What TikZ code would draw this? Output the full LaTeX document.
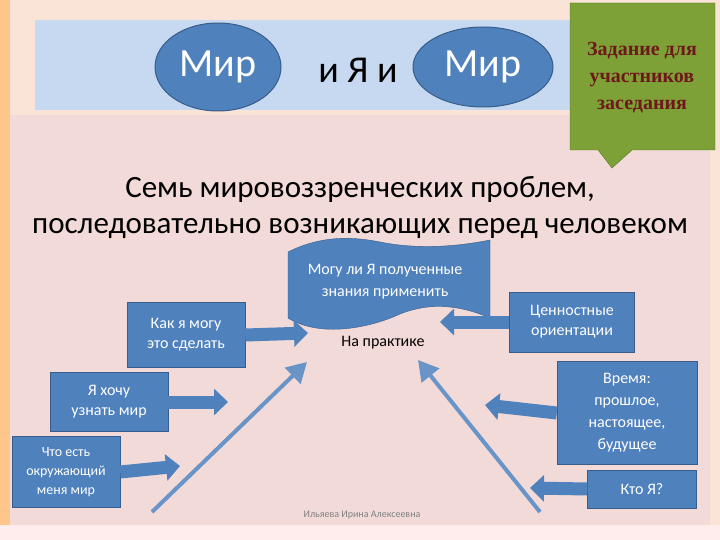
\documentclass[tikz,border=0pt]{standalone}
\usepackage{fontspec}
\setmainfont{Carlito}
\newfontfamily\serifb{Liberation Serif}
\usetikzlibrary{arrows.meta,shapes.geometric}
\definecolor{bg}{RGB}{250,228,215}
\definecolor{panel}{RGB}{242,218,216}
\definecolor{banner}{RGB}{198,217,240}
\definecolor{blu}{RGB}{79,129,189}
\definecolor{bluD}{RGB}{56,93,138}
\definecolor{grn}{RGB}{125,160,55}
\definecolor{grnD}{RGB}{90,120,40}
\definecolor{redt}{RGB}{110,25,25}
\tikzset{
  x=1pt,y=-1pt,
  bbox/.style={draw=bluD,fill=blu,text=white,align=center,font=\fontsize{16}{20}\selectfont,inner sep=2pt},
  fat/.style={draw=blu,line width=13pt,-{Triangle[length=14pt,width=26pt]}},
  thin/.style={draw=blu!85,line width=4pt,-{Triangle[length=20pt,width=22pt]}},
  ell/.style={ellipse,draw=bluD,line width=1pt,fill=blu,text=white}
}
\begin{document}
\begin{tikzpicture}
\useasboundingbox (0,0) rectangle (720,540);
\fill[bg] (0,0) rectangle (720,540);
\fill[orange!45] (0,0) rectangle (10,540);
\fill[panel] (10,115) rectangle (710,525);
\fill[pink!30] (0,525) rectangle (720,540);
\fill[banner] (35,20) rectangle (570,110);
\node[ell,minimum width=126pt,minimum height=88pt,font=\fontsize{40}{42}\selectfont] (m1) at (218,67) {Мир};
\node[font=\fontsize{38}{40}\selectfont] (iya) at (358,70) {и Я и};
\node[ell,minimum width=140pt,minimum height=80pt,font=\fontsize{40}{42}\selectfont] (m2) at (483,67) {Мир};
\fill[grn,draw=grnD] (570,3) -- (715,3) -- (715,150) -- (632,150) -- (612,168) -- (598,150) -- (570,150) -- cycle;
\node[text=redt,align=center,font=\serifb\bfseries\fontsize{20}{27}\selectfont] (task) at (642,78) {Задание для\\участников\\заседания};
\node[align=center,font=\fontsize{31}{36}\selectfont] (title) at (360,207) {Семь мировоззренческих проблем,\\последовательно возникающих перед человеком};
\fill[blu,draw=bluD] (288,252) .. controls (320,236) and (350,236) .. (380,242) .. controls (420,250) and (460,246) .. (490,240) -- (490,318) .. controls (460,305) and (430,302) .. (400,314) .. controls (370,328) and (320,338) .. (288,318) -- cycle;
\node[text=white,align=center,font=\fontsize{16}{22}\selectfont] (scroll) at (385,282) {Могу ли Я полученные\\знания применить};
\node[font=\fontsize{16}{18}\selectfont] (prak) at (383,343) {На практике};
\node[bbox,minimum width=118pt,minimum height=65pt] (b1) at (186,335) {Как я могу\\это сделать};
\node[bbox,minimum width=118pt,minimum height=59pt] (b2) at (109,402) {Я хочу\\узнать мир};
\node[bbox,minimum width=108pt,minimum height=71pt,font=\fontsize{14}{19}\selectfont] (b3) at (66,472) {Что есть\\окружающий\\меня мир};
\node[bbox,minimum width=125pt,minimum height=60pt] (b4) at (572,322) {Ценностные\\ориентации};
\node[bbox,minimum width=140pt,minimum height=103pt,font=\fontsize{16}{22}\selectfont] (b5) at (627,413) {Время:\\прошлое,\\настоящее,\\будущее};
\node[bbox,minimum width=109pt,minimum height=38pt] (b6) at (642,489) {Кто Я?};
\coordinate (t1) at (308,333); \coordinate (t2) at (228,402); \coordinate (t3) at (180,466);
\coordinate (t4) at (440,322); \coordinate (t5) at (485,405); \coordinate (t6) at (530,488);
\draw[fat] (b1.east) -- (t1);
\draw[fat] (b2.east) -- (t2);
\draw[fat] (b3.east) -- (t3);
\draw[fat] (b4.west) -- (t4);
\draw[fat] (b5.west) -- (t5);
\draw[fat] (b6.west) -- (t6);
\coordinate (s1) at (152,512); \coordinate (e1) at (307,362);
\coordinate (s2) at (540,512); \coordinate (e2) at (418,360);
\draw[thin] (s1) -- (e1);
\draw[thin] (s2) -- (e2);
\node[text=gray,font=\fontsize{10}{11}\selectfont] (foot) at (362,515) {Ильяева Ирина Алексеевна};
\end{tikzpicture}
\end{document}
